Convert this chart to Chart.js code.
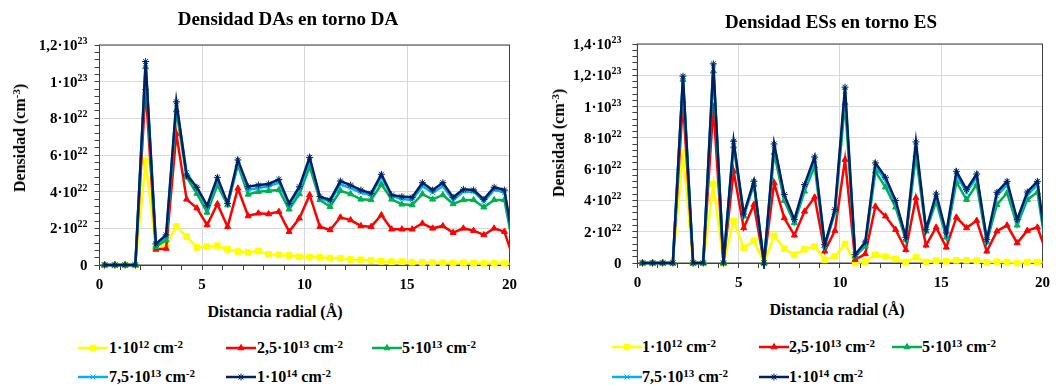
<!DOCTYPE html>
<html>
<head>
<meta charset="utf-8">
<script src="https://cdn.jsdelivr.net/npm/chart.js"></script>
<style>
  body { margin: 0; background: #fff; width: 1056px; height: 385px; overflow: hidden; position: relative;
         font-family: "Liberation Serif", "Times New Roman", serif; font-weight: bold; color: #000; }
  canvas { position: absolute; top: 0; }
  .txt { position: absolute; white-space: nowrap; }
  .title { font-size: 19px; line-height: 20px; transform: translateX(-50%); }
  .axt { font-size: 16px; line-height: 18px; transform: translate(-50%, -50%); }
  .yt { font-size: 16px; line-height: 18px; transform: translate(-50%, -50%) rotate(-90deg); }
  sup { font-size: 11px; vertical-align: 5px; line-height: 0; }
  .leg { position: absolute; font-size: 16px; line-height: 18px; white-space: nowrap; transform: translateY(-50%); }
  .sw { position: absolute; }
</style>
</head>
<body>
<canvas id="chartDA" width="528" height="300" style="left:0"></canvas>
<canvas id="chartES" width="528" height="300" style="left:528px"></canvas>

<div class="txt title" style="left:288px; top:9px">Densidad DAs en torno DA</div>
<div class="txt title" style="left:831px; top:12px">Densidad ESs en torno ES</div>
<div class="txt yt" style="left:20px; top:138px">Densidad (cm<sup>-3</sup>)</div>
<div class="txt yt" style="left:559px; top:143px">Densidad (cm<sup>-3</sup>)</div>
<div class="txt axt" style="left:275px; top:312px">Distancia radial (Å)</div>
<div class="txt axt" style="left:837px; top:310px">Distancia radial (Å)</div>
<div id="legendDA"></div>
<div id="legendES"></div>

<script>
// radial distance of each bin (Å); the last bin sits past the axis end and gets clipped
const radialDist = [0.25, 0.75, 1.25, 1.75, 2.25, 2.75, 3.25, 3.75, 4.25, 4.75,
  5.25, 5.75, 6.25, 6.75, 7.25, 7.75, 8.25, 8.75, 9.25, 9.75,
  10.25, 10.75, 11.25, 11.75, 12.25, 12.75, 13.25, 13.75, 14.25, 14.75,
  15.25, 15.75, 16.25, 16.75, 17.25, 17.75, 18.25, 18.75, 19.25, 19.75, 20.25];

const seriesLabels = [
  "1·10<sup>12</sup> cm<sup>-2</sup>",
  "2,5·10<sup>13</sup> cm<sup>-2</sup>",
  "5·10<sup>13</sup> cm<sup>-2</sup>",
  "7,5·10<sup>13</sup> cm<sup>-2</sup>",
  "1·10<sup>14</sup> cm<sup>-2</sup>"
];

// densities in units of 1e22 cm^-3
const daYellow = [0, 0, 0, 0, 5.64, 0.96, 1.1, 2.1, 1.55, 0.96, 1.0, 1.05, 0.85, 0.73, 0.69, 0.76, 0.58, 0.55, 0.52, 0.45,
  0.43, 0.42, 0.38, 0.36, 0.3, 0.28, 0.24, 0.2, 0.18, 0.18, 0.15, 0.14, 0.13, 0.12, 0.11, 0.11, 0.1, 0.1, 0.1, 0.1, 0.03];
const daRed = [0, 0, 0, 0, 9.64, 0.85, 0.9, 7.15, 3.58, 3.1, 2.18, 3.33, 2.09, 4.18, 2.67, 2.82, 2.78, 2.91, 1.82, 2.55,
  3.82, 2.09, 1.91, 2.6, 2.45, 2.13, 2.09, 2.73, 1.95, 1.95, 1.95, 2.27, 2.0, 2.13, 1.76, 2.0, 1.87, 1.64, 2.0, 1.82, 0.15];
const daGreen = [0, 0, 0, 0, 10.8, 1.0, 1.36, 8.45, 4.78, 3.9, 2.87, 4.36, 3.27, 5.45, 3.85, 4.0, 4.05, 4.09, 3.04, 3.87,
  5.36, 3.55, 3.18, 4.05, 3.87, 3.58, 3.55, 4.4, 3.58, 3.31, 3.27, 3.87, 3.58, 3.82, 3.33, 3.55, 3.55, 3.15, 3.55, 3.55, 0.6];
const daCyan = [0, 0, 0, 0, 11.0, 1.1, 1.55, 8.8, 5.05, 4.15, 3.15, 4.65, 3.3, 5.6, 4.1, 4.2, 4.3, 4.5, 3.25, 4.1,
  5.7, 3.65, 3.45, 4.4, 4.2, 3.95, 3.8, 4.8, 3.75, 3.6, 3.55, 4.3, 3.95, 4.3, 3.55, 4.0, 4.0, 3.45, 4.1, 3.95, 0.75];
const daNavy = [0, 0, 0, 0, 11.1, 1.15, 1.64, 8.9, 4.9, 4.24, 3.24, 4.78, 3.36, 5.73, 4.27, 4.36, 4.42, 4.67, 3.36, 4.27,
  5.87, 3.73, 3.55, 4.58, 4.36, 4.09, 3.91, 4.95, 3.82, 3.73, 3.69, 4.49, 4.09, 4.49, 3.69, 4.13, 4.09, 3.58, 4.24, 4.09, 0.8];

const esYellow = [0, 0, 0, 0, 7.04, 0, 0, 5.05, 0, 2.68, 0.97, 1.42, 0, 1.74, 0.92, 0.52, 0.88, 1.05, 0.2, 0.43,
  1.22, 0, 0.08, 0.52, 0.4, 0.26, 0.06, 0.37, 0.06, 0.15, 0.11, 0.17, 0.17, 0.15, 0.04, 0.08, 0.06, 0, 0.06, 0.06, 0];
const esRed = [0, 0, 0, 0, 10.34, 0, 0, 10.02, 0, 5.86, 2.24, 3.73, 0, 5.12, 2.88, 1.77, 3.3, 4.2, 0.75, 2.07,
  6.61, 0.21, 0.58, 3.62, 2.99, 2.13, 0.85, 4.16, 1.13, 2.28, 1.0, 2.92, 2.24, 2.71, 0.75, 2.03, 2.41, 1.28, 2.07, 2.28, 0.45];
const esGreen = [0, 0, 0, 0, 11.73, 0, 0, 12.26, 0, 7.46, 2.99, 5.01, 0, 7.04, 3.99, 2.56, 4.58, 6.18, 1.07, 3.2,
  10.23, 0.43, 1.07, 5.86, 4.84, 3.56, 1.49, 6.89, 2.03, 3.94, 1.64, 5.18, 4.05, 5.01, 1.34, 3.73, 4.48, 2.41, 4.05, 4.52, 0.3];
const esCyan = [0, 0, 0, 0, 11.85, 0, 0, 12.6, 0, 7.7, 3.05, 5.15, 0, 7.5, 4.25, 2.7, 4.85, 6.6, 1.12, 3.3,
  11.0, 0.5, 1.25, 6.2, 5.25, 3.85, 1.58, 7.5, 2.1, 4.25, 1.82, 5.65, 4.5, 5.5, 1.42, 4.3, 5.0, 2.65, 4.35, 5.0, 0.3];
const esNavy = [0, 0, 0, 0, 11.94, 0, 0, 12.73, 0, 7.78, 3.13, 5.22, 0, 7.61, 4.37, 2.77, 5.01, 6.78, 1.17, 3.41,
  11.24, 0.53, 1.34, 6.4, 5.48, 3.99, 1.64, 7.74, 2.13, 4.41, 1.92, 5.86, 4.69, 5.69, 1.49, 4.52, 5.22, 2.77, 4.54, 5.22, 0.3];

// line / marker style per concentration
const seriesStyles = [
  { color: "#FFFF00", pointStyle: "rect", radius: 4 },
  { color: "#FF0000", pointStyle: "triangle", radius: 3.5 },
  { color: "#00B050", pointStyle: "triangle", radius: 3.5 },
  { color: "#00B0F0", pointStyle: "crossRot", radius: 3.5 },
  { color: "#002060", pointStyle: "star", radius: 3.5 }
];

const FONT = '"Liberation Serif", "Times New Roman", serif';

// split a y value into mantissa text and exponent, e.g. 12 -> ["1,2·10", "23"]
function yLabelParts(v) {
  const k = Math.round(v / 0.4);
  if (k % 5 !== 0) return null;
  const n = Math.round(v);
  if (n === 0) return ["0", ""];
  if (n < 10) return [n + "·10", "22"];
  return [String(n / 10).replace(".", ",") + "·10", "23"];
}

// frame around the plot area
const frameBox = {
  id: "frameBox",
  beforeDatasetsDraw(chart) {
    const { ctx, chartArea: a } = chart;
    ctx.save();
    ctx.strokeStyle = "#404040";
    ctx.lineWidth = 1;
    ctx.strokeRect(a.left, a.top, a.right - a.left, a.bottom - a.top);
    ctx.restore();
  }
};

// y tick labels with a raised exponent
const powerLabels = {
  id: "powerLabels",
  afterDraw(chart, args, opts) {
    const { ctx, scales: { y } } = chart;
    const right = chart.chartArea.left - opts.gap;
    ctx.save();
    ctx.fillStyle = "#000";
    ctx.textBaseline = "alphabetic";
    ctx.textAlign = "left";
    y.ticks.forEach((t) => {
      const parts = yLabelParts(t.value);
      if (!parts) return;
      const py = y.getPixelForValue(t.value) + 5;
      ctx.font = "bold 15px " + FONT;
      const wBase = ctx.measureText(parts[0]).width;
      ctx.font = "bold 10px " + FONT;
      const wExp = ctx.measureText(parts[1]).width;
      const x0 = right - wBase - wExp;
      ctx.font = "bold 15px " + FONT;
      ctx.fillText(parts[0], x0, py);
      ctx.font = "bold 10px " + FONT;
      ctx.fillText(parts[1], x0 + wBase, py - 6);
    });
    ctx.restore();
  }
};

function makeChart(id, series, yMax, plotLeft, padRight, padTop, xHeight, labelGap) {
  const datasets = series.map((vals, i) => {
    const st = seriesStyles[i];
    return {
      label: seriesLabels[i],
      data: radialDist.map((x, j) => ({ x: x, y: vals[j] })),
      borderColor: st.color,
      backgroundColor: st.color,
      pointBackgroundColor: st.color,
      pointBorderColor: st.color,
      pointStyle: st.pointStyle,
      pointRadius: st.radius,
      pointBorderWidth: 1,
      borderWidth: 2.5,
      tension: 0,
      order: series.length - i,
      clip: { left: 6, top: 6, right: 0, bottom: 6 }
    };
  });

  return new Chart(document.getElementById(id), {
    type: "line",
    data: { datasets: datasets },
    options: {
      responsive: false,
      animation: false,
      layout: { padding: { top: padTop, right: padRight, left: 0, bottom: 0 } },
      plugins: {
        legend: { display: false },
        tooltip: { enabled: false },
        powerLabels: { gap: labelGap }
      },
      scales: {
        x: {
          type: "linear",
          min: 0,
          max: 20,
          afterFit: (s) => { s.height = xHeight; },
          ticks: {
            stepSize: 1,
            autoSkip: false,
            maxRotation: 0,
            padding: 6,
            color: "#000",
            font: { family: FONT, size: 15, weight: "bold" },
            callback: (v) => (v % 5 === 0 ? String(v) : "")
          },
          grid: {
            color: (c) => (c.tick && c.tick.value % 5 === 0 ? "#d9d9d9" : "rgba(0,0,0,0)"),
            tickColor: "#404040",
            tickLength: 5,
            lineWidth: 1
          },
          border: { color: "#404040", width: 1 }
        },
        y: {
          min: 0,
          max: yMax,
          afterFit: (s) => { s.width = plotLeft; },
          ticks: {
            stepSize: 0.4,
            autoSkip: false,
            display: false
          },
          grid: {
            color: (c) => (c.tick && Math.round(c.tick.value / 0.4) % 5 === 0 ? "#d9d9d9" : "rgba(0,0,0,0)"),
            tickColor: "#404040",
            tickLength: 5,
            lineWidth: 1
          },
          border: { color: "#404040", width: 1 }
        }
      }
    },
    plugins: [frameBox, powerLabels]
  });
}

makeChart("chartDA", [daYellow, daRed, daGreen, daCyan, daNavy], 12, 99.5, 18.5, 45, 35, 12);
makeChart("chartES", [esYellow, esRed, esGreen, esCyan, esNavy], 14, 109.4, 9.6, 44, 37, 16);

// legend entries: short line with the series marker, then the label
function buildLegend(hostId, cols, rows) {
  const host = document.getElementById(hostId);
  seriesStyles.forEach((st, i) => {
    const col = cols[i % 3];
    const y = rows[Math.floor(i / 3)];
    const c = document.createElement("canvas");
    c.width = 30; c.height = 14;
    c.className = "sw";
    c.style.left = col.sw + "px";
    c.style.top = (y - 7) + "px";
    const ctx = c.getContext("2d");
    ctx.strokeStyle = st.color;
    ctx.fillStyle = st.color;
    ctx.lineWidth = 2.5;
    ctx.beginPath();
    ctx.moveTo(0, 7);
    ctx.lineTo(30, 7);
    ctx.stroke();
    ctx.lineWidth = 1;
    Chart.helpers.drawPoint(ctx, { pointStyle: st.pointStyle, radius: st.radius, borderWidth: 1, rotation: 0 }, 15, 7);
    host.appendChild(c);

    const t = document.createElement("div");
    t.className = "leg";
    t.style.left = col.txt + "px";
    t.style.top = y + "px";
    t.innerHTML = seriesLabels[i];
    host.appendChild(t);
  });
}

buildLegend("legendDA", [{ sw: 78, txt: 109 }, { sw: 226, txt: 257 }, { sw: 372, txt: 402 }], [348, 377]);
buildLegend("legendES", [{ sw: 612, txt: 642 }, { sw: 759, txt: 789 }, { sw: 892, txt: 922 }], [347, 377]);
</script>
</body>
</html>
